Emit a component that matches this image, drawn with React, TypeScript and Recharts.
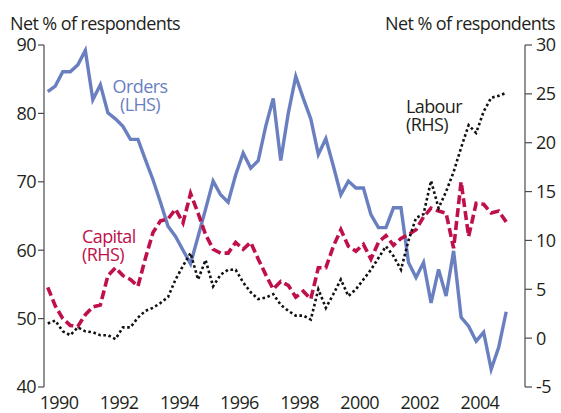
import React from "react";
import { LineChart, Line, XAxis, YAxis } from "recharts";

// quarterly survey balances, 1990 Q1 to 2005 Q2
const orders = [
  83.2, 84, 86.1, 86.1, 87.1, 89.2, 82, 84.2, 80.1, 79.2, 78.1, 76.2, 76.2, 73.2, 70.3, 67,
  63.5, 62, 60, 58, 62, 66, 70.1, 68.1, 67, 71, 74.2, 72, 73.1, 78.1, 82.2, 73.1,
  80, 85.4, 82.2, 79.2, 74, 76.3, 72.3, 68.1, 70.1, 69.1, 69.1, 65.2, 63.3, 63.3, 66.2, 66.2,
  58.2, 56, 58.2, 52.3, 57.2, 53.3, 59.9, 50.2, 48.9, 46.7, 48, 42.6, 45.8, 51,
];
const capital = [
  5.2, 3.3, 2.0, 1.3, 1.2, 2.4, 3.2, 3.4, 6.4, 7.2, 6.4, 6.0, 5.3, 8.2, 10.8, 12.0,
  12.2, 13.2, 11.8, 14.8, 12.8, 10.6, 9.1, 8.7, 8.7, 9.8, 9.1, 9.8, 8.1, 6.5, 5.0, 5.8,
  5.4, 4.2, 4.8, 4.0, 7.2, 7.2, 9.4, 11.1, 9.4, 8.9, 9.6, 8.1, 9.8, 10.5, 9.5, 10.2,
  10.6, 11.1, 12.4, 13.3, 13.0, 12.8, 9.2, 16.0, 10.4, 13.8, 13.7, 12.8, 13.0, 11.9,
];
const labour = [
  1.5, 1.8, 0.7, 0.3, 1.1, 0.7, 0.6, 0.3, 0.3, -0.1, 1.1, 1.1, 2.1, 2.8, 3.1, 3.6,
  4.2, 6.0, 7.4, 8.7, 6.0, 8.0, 5.3, 6.5, 7.0, 7.0, 5.7, 4.7, 4.0, 4.15, 4.5, 3.4,
  2.8, 2.3, 2.3, 1.9, 5.0, 3.1, 4.5, 6.0, 4.3, 5.0, 6.0, 7.0, 8.2, 9.4, 8.4, 7.0,
  10.0, 12.3, 12.7, 16.1, 13.3, 15.0, 17.0, 19.5, 21.8, 21.0, 23.2, 24.6, 24.8, 25.1,
];

const startYear = 1990;
const yearTicks = [1990, 1991, 1992, 1993, 1994, 1995, 1996, 1997, 1998, 1999, 2000, 2001, 2002, 2003, 2004, 2005, 2006];
const yearLabels = [1990, 1992, 1994, 1996, 1998, 2000, 2002, 2004];
const leftTicks = [40, 50, 60, 70, 80, 90];
const rightTicks = [-5, 0, 5, 10, 15, 20, 25, 30];

const BLUE = "#6a7fc0";
const RED = "#c0104a";
const INK = "#231f20";
const AXIS = "#4a4a4a";
const FONT = "'Open Sans', sans-serif";

// each quarter plotted at its mid point
const data = orders.map((v, i) => ({
  t: startYear + i / 4 + 0.125,
  orders: v,
  capital: capital[i],
  labour: labour[i],
}));

const tickStyle = { fontSize: 18, fill: INK, fontFamily: FONT, letterSpacing: -0.6 };

const txt = (extra: React.CSSProperties): React.CSSProperties => ({
  position: "absolute",
  fontFamily: FONT,
  fontSize: 18,
  lineHeight: "18px",
  letterSpacing: -0.6,
  whiteSpace: "nowrap",
  ...extra,
});

export default function App() {
  return (
    <div style={{ position: "absolute", left: 0, top: 0, width: 561, height: 413, background: "#fff" }}>
      <LineChart width={561} height={413} data={data} margin={{ top: 45, right: 0, bottom: 0, left: 0 }}>
        <XAxis
          xAxisId="years" dataKey="t" type="number" domain={[1990, 2006]} ticks={yearTicks}
          height={0} tickSize={6} tickFormatter={() => ""} stroke={AXIS}
          axisLine={{ stroke: AXIS, strokeWidth: 1.2 }} tickLine={{ stroke: AXIS, strokeWidth: 1.2 }}
        />
        <XAxis
          xAxisId="labels" dataKey="t" type="number" domain={[1990, 2006]}
          ticks={yearLabels.map(y => y + 0.5)} tickFormatter={(v: number) => String(Math.floor(v))}
          height={26} axisLine={false} tickLine={false} tickSize={6} tickMargin={3}
          tick={tickStyle} interval={0}
        />
        <YAxis
          yAxisId="left" orientation="left" domain={[40, 90]} ticks={leftTicks} width={44}
          tickSize={6} tickMargin={2} tick={tickStyle} interval={0}
          axisLine={{ stroke: AXIS, strokeWidth: 1.2 }} tickLine={{ stroke: AXIS, strokeWidth: 1.2 }}
        />
        <YAxis
          yAxisId="right" orientation="right" domain={[-5, 30]} ticks={rightTicks} width={36}
          tickSize={7} tickMargin={4} tick={tickStyle} interval={0}
          axisLine={{ stroke: AXIS, strokeWidth: 1.2 }} tickLine={{ stroke: AXIS, strokeWidth: 1.2 }}
        />
        <Line xAxisId="years" yAxisId="left" dataKey="orders" type="linear" stroke={BLUE}
          strokeWidth={3.4} dot={false} isAnimationActive={false} />
        <Line xAxisId="years" yAxisId="right" dataKey="capital" type="linear" stroke={RED}
          strokeWidth={3.6} strokeDasharray="9 4" dot={false} isAnimationActive={false} />
        <Line xAxisId="years" yAxisId="right" dataKey="labour" type="linear" stroke="#111"
          strokeWidth={2.6} strokeDasharray="2.6 2.6" dot={false} isAnimationActive={false} />
      </LineChart>

      <div style={txt({ left: 10, top: 14, color: INK })}>Net % of respondents</div>
      <div style={txt({ right: 6, top: 14, color: INK })}>Net % of respondents</div>
      <div style={txt({ left: 104, top: 77, width: 72, textAlign: "center", color: BLUE })}>Orders</div>
      <div style={txt({ left: 104, top: 95, width: 72, textAlign: "center", color: BLUE })}>(LHS)</div>
      <div style={txt({ left: 82, top: 227, color: RED })}>Capital</div>
      <div style={txt({ left: 82, top: 245, color: RED })}>(RHS)</div>
      <div style={txt({ left: 406, top: 97, color: INK })}>Labour</div>
      <div style={txt({ left: 406, top: 115, color: INK })}>(RHS)</div>
    </div>
  );
}
